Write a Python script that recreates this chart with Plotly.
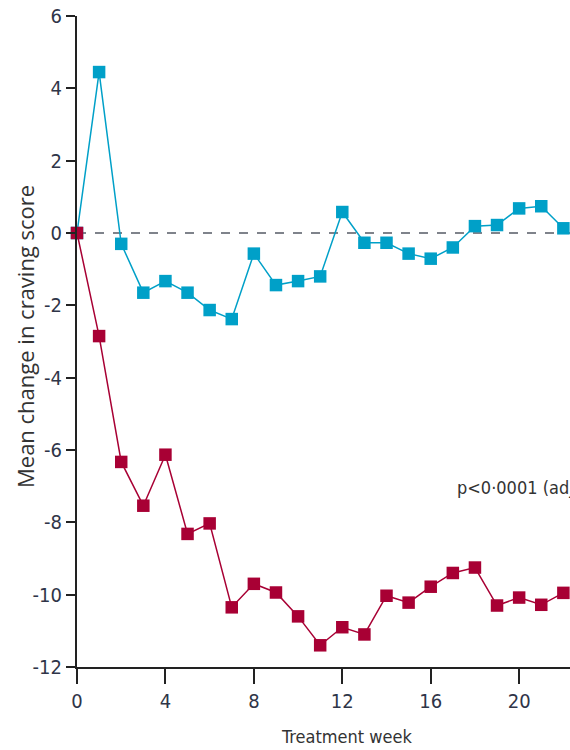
import plotly.graph_objects as go

weeks = list(range(0, 23))
placebo = [0, 4.45, -0.3, -1.65, -1.33, -1.65, -2.13, -2.38, -0.57, -1.44, -1.33, -1.2, 0.58,
           -0.27, -0.27, -0.57, -0.71, -0.4, 0.19, 0.22, 0.68, 0.74, 0.13]
active = [0, -2.85, -6.33, -7.54, -6.13, -8.32, -8.03, -10.35, -9.7, -9.94, -10.6, -11.4, -10.9,
          -11.1, -10.03, -10.22, -9.78, -9.4, -9.25, -10.3, -10.08, -10.28, -9.95]
x_ticks = [0, 4, 8, 12, 16, 20]
y_ticks = [-12, -10, -8, -6, -4, -2, 0, 2, 4, 6]

TEAL = "rgb(0,160,200)"
RED = "rgb(168,0,52)"
NARROW = "Liberation Sans Narrow, DejaVu Sans Condensed, Roboto, sans-serif"
tick_font = dict(family=NARROW, size=20, color="#2f3548")

fig = go.Figure()
fig.add_shape(type="line", xref="x", yref="y", x0=0, x1=22.4, y0=0, y1=0,
              line=dict(color="#555b66", width=1.6, dash="dash"), layer="below")
fig.add_trace(go.Scatter(x=weeks, y=placebo, mode="lines+markers",
                         line=dict(color=TEAL, width=1.5),
                         marker=dict(symbol="square", size=12.5, color=TEAL),
                         cliponaxis=False, showlegend=False))
fig.add_trace(go.Scatter(x=weeks, y=active, mode="lines+markers",
                         line=dict(color=RED, width=1.5),
                         marker=dict(symbol="square", size=12.5, color=RED),
                         cliponaxis=False, showlegend=False))

fig.update_layout(
    width=570, height=750,
    margin=dict(l=77, r=0, t=16, b=83, autoexpand=False),
    plot_bgcolor="white", paper_bgcolor="white",
    xaxis=dict(range=[0, 22.3], tickvals=x_ticks, showgrid=False, zeroline=False,
               showline=True, linecolor="#222", linewidth=2, automargin=False,
               ticks="outside", ticklen=15, tickwidth=2, tickcolor="#222",
               tickfont=tick_font),
    yaxis=dict(range=[-12, 6], tickvals=y_ticks,
               ticktext=[str(v) for v in y_ticks],
               showgrid=False, zeroline=False, automargin=False,
               showline=True, linecolor="#222", linewidth=2,
               ticks="outside", ticklen=9, tickwidth=2, tickcolor="#222",
               tickfont=tick_font),
    annotations=[
        dict(text="Mean change in craving score", xref="paper", yref="paper",
             x=(25 - 77) / 493, y=(667 - 337) / 651, textangle=-90, showarrow=False,
             xanchor="center", yanchor="middle",
             font=dict(family="Open Sans, sans-serif", size=22, color="#333")),
        dict(text="Treatment week", xref="paper", yref="paper",
             x=(346 - 77) / 493, y=(667 - 737) / 651, showarrow=False,
             xanchor="center", yanchor="middle",
             font=dict(family=NARROW, size=18, color="#333")),
        dict(text="p<0·0001 (adjusted)", xref="x", yref="y", x=17.1, y=-7.05,
             showarrow=False, xanchor="left", yanchor="middle",
             font=dict(family=NARROW, size=18, color="#333")),
    ],
)

fig.write_html("out.html", config={"displayModeBar": False},
               post_script="document.body.style.margin='0';")
